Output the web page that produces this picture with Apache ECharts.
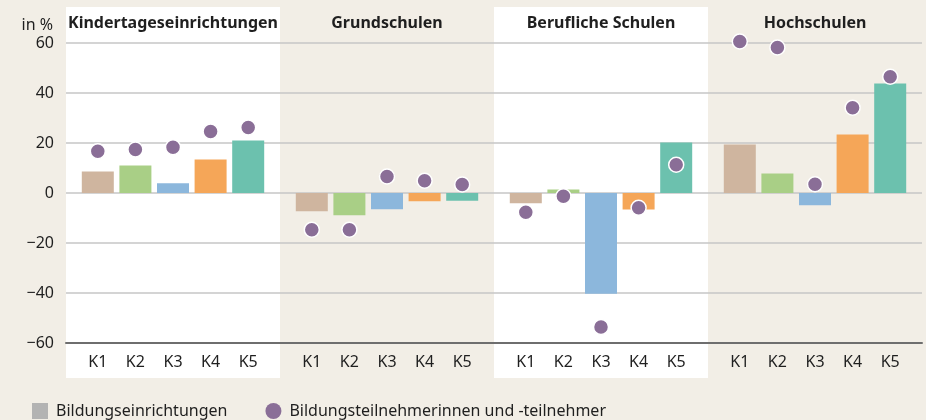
<!DOCTYPE html>
<html><head><meta charset="utf-8">
<script src="https://cdn.jsdelivr.net/npm/echarts@6/dist/echarts.min.js"></script>
<style>html,body{margin:0;padding:0;background:#f2eee6}#c{width:926px;height:420px}</style>
</head><body><div id="c"></div>
<script>
const groups = ['Kindertageseinrichtungen', 'Grundschulen', 'Berufliche Schulen', 'Hochschulen'];
const cats = ['K1', 'K2', 'K3', 'K4', 'K5'];
const barKita  = [8.6, 11.0, 3.9, 13.4, 21.0];
const barGrund = [-7.3, -8.9, -6.5, -3.3, -3.1];
const barBeruf = [-4.1, 1.4, -40.3, -6.6, 20.2];
const barHoch  = [19.4, 7.8, -4.9, 23.4, 43.8];
const dotKita  = [16.7, 17.4, 18.3, 24.6, 26.2];
const dotGrund = [-14.7, -14.7, 6.6, 4.9, 3.4];
const dotBeruf = [-7.7, -1.3, -53.6, -5.9, 11.3];
const dotHoch  = [60.6, 58.2, 3.5, 34.1, 46.5];
const yMin = -60, yMax = 60, yStep = 20;
const legendNames = ['Bildungseinrichtungen', 'Bildungsteilnehmerinnen und -teilnehmer'];

const barSets = [barKita, barGrund, barBeruf, barHoch];
const dotSets = [dotKita, dotGrund, dotBeruf, dotHoch];
const catColors = ['#cfb59f', '#a9cf86', '#8cb7dc', '#f5a658', '#6cc1ae'];
const dotColor = '#8a6e97';
const font = 'Noto Sans';
const textColor = '#1f1f1f';

const L = 66, T = 43, W = 856, H = 300;
const gw = W / groups.length;
const inner = 13;

const grids = [{left: L, top: T, width: W, height: H}];
const xAxes = [
  {gridIndex: 0, type: 'category', data: groups, position: 'top',
   axisLine: {show: false}, axisTick: {show: false}, splitLine: {show: false},
   axisLabel: {interval: 0, fontFamily: font, fontWeight: 'bold', fontSize: 16, color: textColor, margin: 12}},
  {gridIndex: 0, type: 'category', data: groups, position: 'bottom', z: 5,
   axisLine: {show: true, onZero: true, lineStyle: {color: '#6e6e6e', width: 2}},
   axisTick: {show: false}, axisLabel: {show: false}, splitLine: {show: false}}
];
const yAxes = [
  {gridIndex: 0, type: 'value', min: yMin, max: yMax, interval: yStep,
   axisLine: {show: false}, axisTick: {show: false},
   splitLine: {lineStyle: {color: '#c6c6c6', width: 1.5}},
   axisLabel: {fontFamily: font, fontSize: 16, color: textColor, margin: 12,
     formatter: v => String(v).replace('-', '\u2212')},
   name: 'in %', nameLocation: 'end', nameGap: 18,
   nameTextStyle: {fontFamily: font, fontSize: 16, color: textColor, align: 'right', verticalAlign: 'middle', padding: [0, 13, 0, 0]}}
];
const series = [];
groups.forEach((g, i) => {
  grids.push({left: L + gw * i + inner, top: T, width: gw - 2 * inner, height: H});
  xAxes.push({gridIndex: i + 1, type: 'category', data: cats,
    axisLine: {show: false}, axisTick: {show: false},
    axisLabel: {interval: 0, fontFamily: font, fontSize: 16, color: textColor, margin: 11}});
  yAxes.push({gridIndex: i + 1, type: 'value', min: yMin, max: yMax, interval: yStep, show: false,
    splitLine: {show: false}});
  series.push({
    type: 'bar', name: legendNames[0], xAxisIndex: i + 2, yAxisIndex: i + 1,
    barWidth: 32, itemStyle: {color: '#b3b3b3'},
    data: barSets[i].map((v, k) => ({value: v, itemStyle: {color: catColors[k]}}))
  });
  series.push({
    type: 'scatter', name: legendNames[1], xAxisIndex: i + 2, yAxisIndex: i + 1,
    symbolSize: 15, z: 4, clip: false,
    itemStyle: {color: dotColor, borderColor: '#ffffff', borderWidth: 1.5, opacity: 1},
    data: dotSets[i]
  });
});

const panels = [];
[0, 2].forEach(i => {
  panels.push({type: 'rect', z: -10, silent: true,
    shape: {x: L + gw * i, y: 7, width: gw, height: 371},
    style: {fill: '#ffffff'}});
});

const chart = echarts.init(document.getElementById('c'), null, {renderer: 'canvas'});
chart.setOption({
  backgroundColor: '#f2eee6',
  animation: false,
  grid: grids, xAxis: xAxes, yAxis: yAxes, series: series,
  graphic: {elements: panels},
  legend: {
    left: 27, top: 398, itemWidth: 16, itemHeight: 16, itemGap: 38,
    textStyle: {fontFamily: font, fontSize: 16, color: textColor, padding: [0, 0, 0, 3]},
    data: [
      {name: legendNames[0], icon: 'rect', itemStyle: {color: '#b3b3b3'}},
      {name: legendNames[1], icon: 'circle', itemStyle: {color: dotColor, borderWidth: 0}}
    ]
  }
});
</script></body></html>
